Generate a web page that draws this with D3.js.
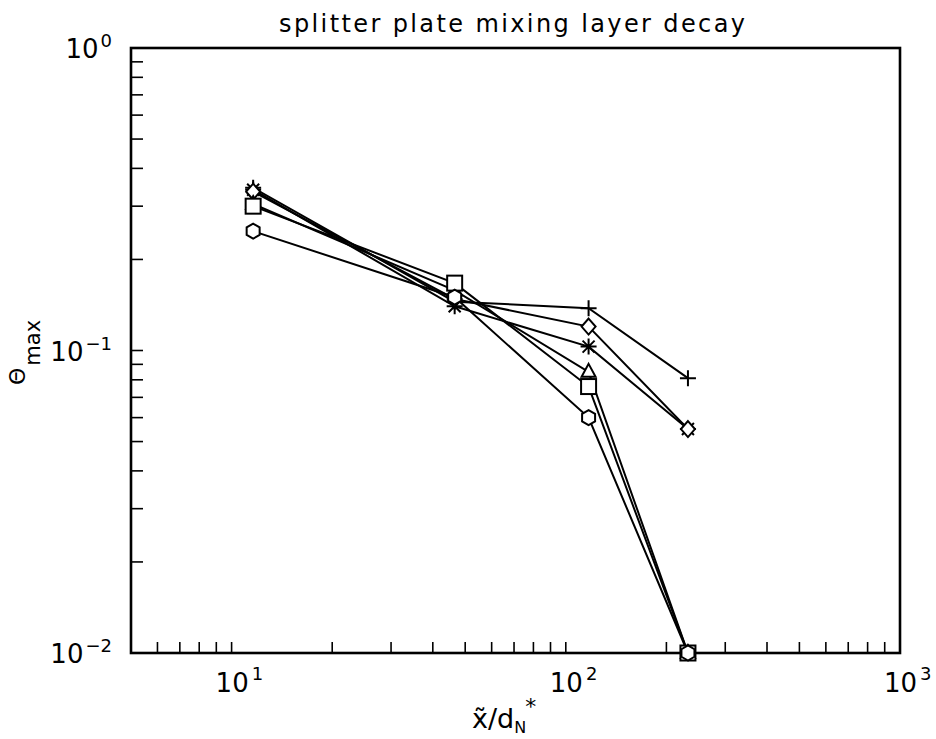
<!DOCTYPE html>
<html>
<head>
<meta charset="utf-8">
<script src="https://cdn.jsdelivr.net/npm/d3@7"></script>
<style>
  html, body { margin: 0; padding: 0; background: #fff; }
  svg { display: block; }
  text { font-family: "DejaVu Sans", sans-serif; fill: #000; }
</style>
</head>
<body>
<svg id="chart" width="936" height="739"></svg>
<script>
// ---- data ----
const xValues = [11.6, 46.5, 117, 232];
const plusValues     = [0.345, 0.145, 0.138, 0.081];
const asteriskValues = [0.340, 0.140, 0.103, 0.055];
const diamondValues  = [0.335, 0.148, 0.120, 0.055];
const triangleValues = [0.305, 0.158, 0.085, 0.010];
const squareValues   = [0.300, 0.167, 0.076, 0.010];
const hexagonValues  = [0.248, 0.150, 0.060, 0.010];
const seriesMarkers = ["plus", "asterisk", "diamond", "triangle", "square", "hexagon"];
const seriesValues = [plusValues, asteriskValues, diamondValues, triangleValues, squareValues, hexagonValues];
const xTickLabels = [{v: 10, e: "1"}, {v: 100, e: "2"}, {v: 1000, e: "3"}];
const yTickLabels = [{v: 1, e: "0"}, {v: 0.1, e: "\u22121"}, {v: 0.01, e: "\u22122"}];
const titleText = "splitter plate mixing layer decay";

// ---- layout ----
const svg = d3.select("#chart");
const pL = 131, pR = 900, pT = 48, pB = 653;
const x = d3.scaleLog().domain([5, 1000]).range([pL, pR]);
const y = d3.scaleLog().domain([0.01, 1]).range([pB, pT]);

// minor/major ticks (inward, bottom and left only)
const xt = x.ticks().filter(v => v > 5 && v < 1000);
svg.append("g").selectAll("line").data(xt).join("line")
  .attr("x1", d => x(d)).attr("x2", d => x(d))
  .attr("y1", pB).attr("y2", pB - 11)
  .attr("stroke", "#000").attr("stroke-width", 1.6);
const yt = y.ticks().filter(v => v > 0.01 && v < 1);
svg.append("g").selectAll("line").data(yt).join("line")
  .attr("y1", d => y(d)).attr("y2", d => y(d))
  .attr("x1", pL).attr("x2", pL + 12)
  .attr("stroke", "#000").attr("stroke-width", 1.6);

// frame
svg.append("rect").attr("x", pL).attr("y", pT)
  .attr("width", pR - pL).attr("height", pB - pT)
  .attr("fill", "none").attr("stroke", "#000").attr("stroke-width", 2.6);

// x tick labels
xTickLabels.forEach(t => {
  const g = svg.append("text").attr("x", x(t.v) - 16).attr("y", 692)
    .attr("font-size", 26);
  g.append("tspan").text("10");
  g.append("tspan").attr("dy", -12).attr("font-size", 18).attr("dx", 3).text(t.e);
});
// y tick labels
yTickLabels.forEach(t => {
  const g = svg.append("text").attr("x", 112).attr("y", y(t.v) + 10)
    .attr("text-anchor", "end").attr("font-size", 26);
  g.append("tspan").text("10");
  g.append("tspan").attr("dy", -11).attr("font-size", 18).attr("dx", 2).text(t.e);
});

// title
svg.append("text").attr("x", 279).attr("y", 32).attr("font-size", 24)
  .attr("textLength", 466).attr("lengthAdjust", "spacing").text(titleText);

// x axis label
const xl = svg.append("text").attr("x", 472).attr("y", 728).attr("font-size", 27);
xl.append("tspan").text("x\u0303/d");
xl.append("tspan").attr("font-size", 16).attr("dy", 5).text("N");
xl.append("tspan").attr("font-size", 22).attr("dy", -19).attr("dx", -1).text("*");

// y axis label
const yl = svg.append("text").attr("transform", "translate(25,385) rotate(-90)").attr("font-size", 22);
yl.append("tspan").text("\u0398");
yl.append("tspan").attr("dy", 15).attr("dx", 2).attr("font-size", 21).text("max");

// ---- series ----
const line = d3.line().x(d => x(d[0])).y(d => y(d[1]));
function marker(g, type) {
  const sw = 2;
  if (type === "plus") {
    g.append("path").attr("d", "M-8,0H8M0,-8V8").attr("stroke", "#000").attr("stroke-width", sw).attr("fill", "none");
  } else if (type === "asterisk") {
    g.append("path").attr("d", "M-8,0H8M0,-8V8M-6,-6L6,6M-6,6L6,-6").attr("stroke", "#000").attr("stroke-width", sw).attr("fill", "none");
  } else if (type === "diamond") {
    g.append("path").attr("d", "M0,-8L7,0L0,8L-7,0Z").attr("stroke", "#000").attr("stroke-width", sw).attr("fill", "#fff");
  } else if (type === "triangle") {
    g.append("path").attr("d", "M0,-8L7,5L-7,5Z").attr("stroke", "#000").attr("stroke-width", sw).attr("fill", "#fff");
  } else if (type === "square") {
    g.append("rect").attr("x", -7.5).attr("y", -7.5).attr("width", 15).attr("height", 15)
      .attr("stroke", "#000").attr("stroke-width", sw).attr("fill", "#fff");
  } else if (type === "hexagon") {
    const pts = d3.range(6).map(i => {
      const a = Math.PI / 2 + i * Math.PI / 3;
      return [7.5 * Math.cos(a), 7.5 * Math.sin(a)];
    });
    g.append("path").attr("d", "M" + pts.map(p => p.join(",")).join("L") + "Z")
      .attr("stroke", "#000").attr("stroke-width", sw).attr("fill", "#fff");
  }
}
const seriesG = svg.append("g");
seriesValues.forEach((vals, i) => {
  const pts = xValues.map((xv, j) => [xv, vals[j]]);
  seriesG.append("path").datum(pts).attr("d", line)
    .attr("fill", "none").attr("stroke", "#000").attr("stroke-width", 2);
});
seriesValues.forEach((vals, i) => {
  xValues.forEach((xv, j) => {
    const g = seriesG.append("g").attr("transform", `translate(${x(xv)},${y(vals[j])})`);
    marker(g, seriesMarkers[i]);
  });
});
</script>
</body>
</html>
